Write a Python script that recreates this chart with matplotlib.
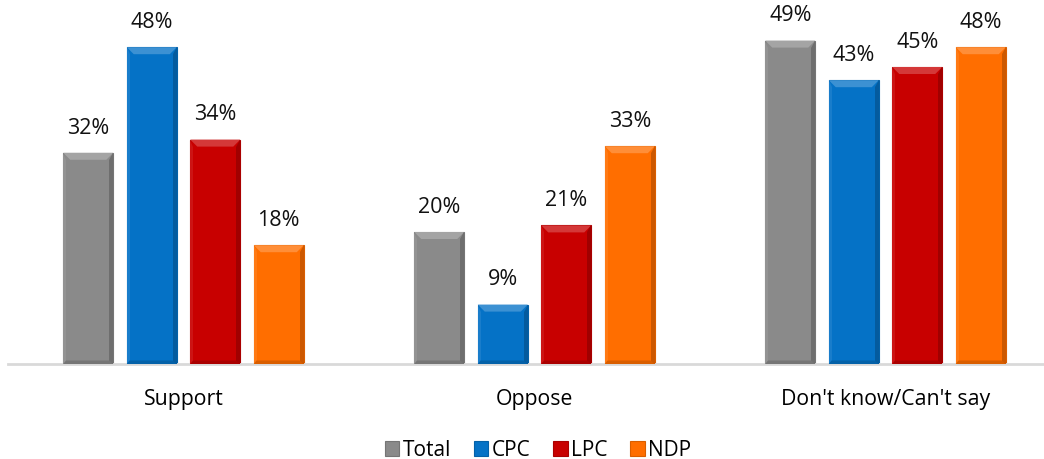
import numpy as np
import matplotlib.pyplot as plt
from matplotlib.patches import Polygon
from matplotlib.colors import to_rgb

categories = ["Support", "Oppose", "Don't know/Can't say"]
series = ["Total", "CPC", "LPC", "NDP"]
total = [32, 20, 49]
cpc = [48, 9, 43]
lpc = [34, 21, 45]
ndp = [18, 33, 48]
colors = ["#8a8a8a", "#0572c6", "#c80000", "#ff6e00"]

plt.rcParams['font.family'] = ['Open Sans', 'DejaVu Sans']


def shade(c, f):
    r, g, b = to_rgb(c)
    if f > 0:
        return (r + (1 - r) * f, g + (1 - g) * f, b + (1 - b) * f)
    return (r * (1 + f), g * (1 + f), b * (1 + f))


def bevel(ax, rect, color, bx, by):
    x0 = rect.get_x()
    x1 = x0 + rect.get_width()
    y1 = rect.get_height()
    top = Polygon([(x0, y1), (x1, y1), (x1 - bx, y1 - by), (x0 + bx, y1 - by)],
                  closed=True, color=shade(color, 0.22), lw=0, zorder=3)
    right = Polygon([(x1, y1), (x1, 0), (x1 - bx * 0.6, 0), (x1 - bx * 0.6, y1 - by)],
                    closed=True, color=shade(color, -0.2), lw=0, zorder=3)
    left = Polygon([(x0, y1), (x0, 0), (x0 + bx * 0.4, 0), (x0 + bx * 0.4, y1 - by)],
                   closed=True, color=shade(color, 0.08), lw=0, zorder=3)
    bottom = Polygon([(x0, 0), (x1, 0), (x1 - bx * 0.6, by * 0.5), (x0 + bx * 0.4, by * 0.5)],
                     closed=True, color=shade(color, -0.15), lw=0, zorder=3)
    for p in (top, right, left, bottom):
        ax.add_patch(p)


fig = plt.figure(figsize=(10.44, 4.60), dpi=100)
ax = fig.add_axes([8 / 1044, 95 / 460, 1036 / 1044, 365 / 460])

x = np.arange(len(categories))
width = 50 / 351
step = 63.5 / 351
data = [total, cpc, lpc, ndp]
bx = 7 / 351
by = 7 / 6.6

for i, (name, vals, col) in enumerate(zip(series, data, colors)):
    bars = ax.bar(x + (i - 1.5) * step, vals, width, color=col, label=name,
                  edgecolor=shade(col, -0.15), linewidth=0.8, zorder=2)
    for r in bars:
        bevel(ax, r, col, bx, by)
    for r, v in zip(bars, vals):
        ax.text(r.get_x() + r.get_width() / 2, v + 2.3, f"{v}%",
                ha='center', va='bottom', fontsize=15.5, color='#111111')

ax.set_xlim(-0.5, -0.5 + 1036 / 351)
ax.set_ylim(0, 365 / 6.6)
for s in ['top', 'right', 'left']:
    ax.spines[s].set_visible(False)
ax.spines['bottom'].set_color('#d9d9d9')
ax.spines['bottom'].set_linewidth(2)
ax.set_yticks([])
ax.set_xticks(x)
ax.set_xticklabels(categories, fontsize=15.3)
ax.tick_params(axis='x', length=0, pad=17)

fig.legend(loc='center', bbox_to_anchor=(538 / 1044, 9 / 460), ncol=4,
           frameon=False, fontsize=15, handlelength=0.7, handleheight=0.7,
           handletextpad=0.15, columnspacing=1.1)

fig.savefig('out.png', dpi=100)
